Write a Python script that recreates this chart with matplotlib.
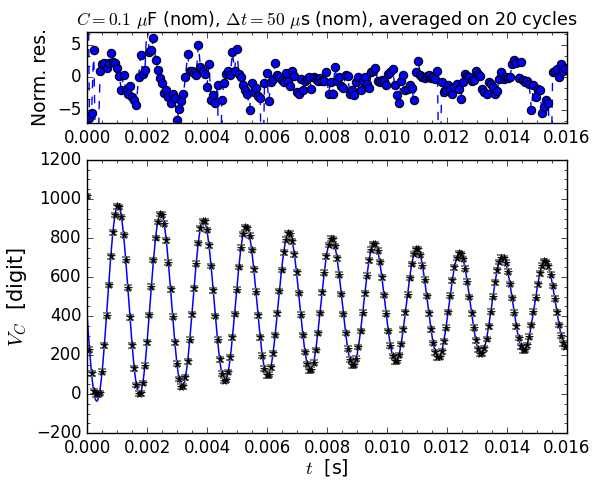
import numpy as np
import matplotlib
matplotlib.use('Agg')
import matplotlib.pyplot as plt
from matplotlib.ticker import MultipleLocator, AutoMinorLocator

plt.style.use('classic')

#Sampling step of the averaged acquisition (s)
dt = 71.2e-6

#Capacitor voltage, ADC digits
v_data = [1015, 228, 107, 15, 0, 0, 6, 115, 251, 402, 559, 706, 830, 918, 962, 959, 908, 815, 690, 545,
          393, 251, 132, 47, 3, 5, 57, 146, 266, 405, 550, 687, 801, 883, 924, 920, 874, 788, 673, 538,
          397, 266, 156, 78, 38, 41, 86, 169, 280, 409, 543, 669, 775, 850, 888, 885, 842, 763, 656, 532,
          401, 280, 178, 105, 69, 72, 113, 189, 292, 411, 536, 652, 750, 820, 855, 852, 812, 739, 640, 525,
          404, 292, 198, 131, 97, 100, 138, 209, 304, 414, 529, 637, 727, 792, 824, 822, 784, 717, 625, 519,
          407, 303, 216, 154, 123, 126, 161, 226, 314, 416, 522, 622, 706, 765, 796, 793, 759, 696, 612, 514,
          410, 314, 233, 176, 147, 149, 182, 242, 324, 418, 516, 608, 686, 741, 769, 767, 735, 677, 599, 508,
          412, 323, 249, 196, 169, 171, 201, 257, 332, 420, 510, 596, 667, 718, 744, 742, 713, 659, 587, 503,
          414, 332, 263, 214, 189, 191, 219, 271, 340, 421, 505, 584, 650, 697, 721, 719, 692, 643, 576, 498,
          415, 340, 276, 230, 208, 209, 235, 283, 347, 422, 500, 573, 634, 678, 700, 698, 673, 627, 565, 493,
          417, 347, 288, 246, 225, 226, 250, 294, 354, 423, 495, 562, 619, 659, 680, 678, 655, 613, 555, 489,
          419, 354, 299, 261, 241]
v_err = 12

#Normalized residuals
res = [30, -6.3, -5.5, 4.2, -14, -12, 0.9, 2.0, 2.2, 1.4,
       2.2, 3.7, 2.4, 2.2, 1.4, 0.2, -2.0, 0.35, -1.9, -2.6,
       -1.3, -3.0, -3.5, -4.2, 0.0, 3.4, 0.5, 1.1, 8.5, 3.9,
       4.2, 6.0, 2.7, 1.1, -0.15, -0.8, -2.4, -1.9, -3.0, -4.0,
       -2.6, -3.2, -6.6, -4.9, -3.7, -2.6, 0.1, 3.6, 0.9, 1.0,
       0.7, 0.3, 5.0, 1.6, 0.9, 0.5, -1.5, 2.0, -3.5, -2.7,
       -4.0, -1.1, -25, -3.5, -0.8, 0.5, 0.9, 0.3, 3.9, 1.0,
       4.3, 0.5, 0.0, -1.2, -1.9, -2.5, -5.0, -0.9, -2.2, -1.7,
       -2.8, -3.2, -22, -0.9, 0.6, -3.7, -0.7, -0.2, 2.2, 0.35,
       0.0, -0.4, -0.7, 0.6, -0.5, -1.4, 0.9, 0.25, -2.2, -2.5,
       -0.3, -2.0, -0.5, -0.25, 0.0, -1.75, 0.0, -0.25, -0.5, -0.1,
       -0.5, -0.5, 0.75, -2.5, -0.75, -2.5, 1.6, -0.5, 0.0, -1.4,
       -1.6, 0.4, 0.25, -2.5, -2.0, -2.65, -0.65, 0.1, -2.0, -0.5,
       0.0, -1.0, -1.6, 0.75, 1.0, 1.4, -0.5, -0.75, -0.4, -0.5,
       -1.25, 0.5, 0.75, 1.25, -1.25, -2.75, -3.9, -0.5, 0.4, -2.0,
       -1.75, -1.25, -1.6, -3.5, 0.75, 2.5, 0.4, 0.0, -0.1, 0.25,
       0.4, -0.1, 0.1, -0.25, 1.0, -22, -0.75, -2.25, -2.0, -1.25,
       -1.75, -2.5, -1.5, -1.0, -1.75, -3.25, -0.75, 0.5, 0.25, 0.0,
       -0.5, -0.4, 1.0, 0.5, 0.25, -1.75, -2.25, -2.5, -0.75, -1.0,
       -1.5, -2.5, -2.1, -0.25, 0.75, -0.25, 0.0, -0.1, 0.1, 2.0,
       2.6, 2.25, -0.1, 2.4, -0.4, -0.75, -0.5, -1.0, -5.0, -1.25,
       -3.0, -1.75, -2.0, -5.5, -4.5, -3.5, -4.0, -20, 0.75, 1.0,
       1.25, 0.0, 2.1, 1.0, 1.5]

#Fit parameters (damped oscillation on a slowly drifting baseline)
fit_c0, fit_c1 = 476.0, -1300.0
fit_amp, fit_tau = 520.0, 0.01824
fit_omega, fit_tpeak = 4412.3, 0.00103

t = np.arange(len(v_data)) * dt
tt = np.linspace(0, 0.016, 2000)
fit = fit_c0 + fit_c1 * tt + fit_amp * np.exp(-tt / fit_tau) * np.cos(fit_omega * (tt - fit_tpeak))

fig = plt.figure(figsize=(5.95, 4.8), dpi=100, facecolor='white')
ax1 = fig.add_axes([0.1467, 0.7438, 0.8063, 0.1902])
ax2 = fig.add_axes([0.1467, 0.0975, 0.8063, 0.5692])

#Residuals
ax1.plot(t, res, 'o--', color='blue', mfc='blue', mec='black', mew=0.8, ms=6, lw=1)
ax1.set_xlim(0, 0.016)
ax1.set_ylim(-7, 7)
ax1.yaxis.set_major_locator(MultipleLocator(5))
ax1.yaxis.set_minor_locator(AutoMinorLocator(3))
ax1.xaxis.set_major_locator(MultipleLocator(0.002))
ax1.xaxis.set_minor_locator(AutoMinorLocator(4))
ax1.set_ylabel('Norm. res.', fontsize=13.5)
ax1.set_title(r'$C=0.1$ $\mu$F (nom), $\Delta t=50$ $\mu$s (nom), averaged on 20 cycles', fontsize=12.6)

#Data and fit
ax2.plot(tt, fit, color='blue', lw=1.1)
ax2.errorbar(t, v_data, yerr=v_err, fmt='*', color='black', ms=5.5, mec='black', ecolor='gray',
             elinewidth=1, capsize=3, capthick=1.5)
ax2.set_xlim(0, 0.016)
ax2.set_ylim(-200, 1200)
ax2.yaxis.set_major_locator(MultipleLocator(200))
ax2.yaxis.set_minor_locator(AutoMinorLocator(4))
ax2.xaxis.set_major_locator(MultipleLocator(0.002))
ax2.xaxis.set_minor_locator(AutoMinorLocator(4))
ax2.set_ylabel(r'$V_C$  [digit]', fontsize=15)
ax2.set_xlabel(r'$t$  [s]', fontsize=13.5, labelpad=0)

for ax in (ax1, ax2):
    ax.tick_params(which='both', direction='in', top=True, right=True, labelsize=12)

fig.savefig('out.png', dpi=100, facecolor='white')
